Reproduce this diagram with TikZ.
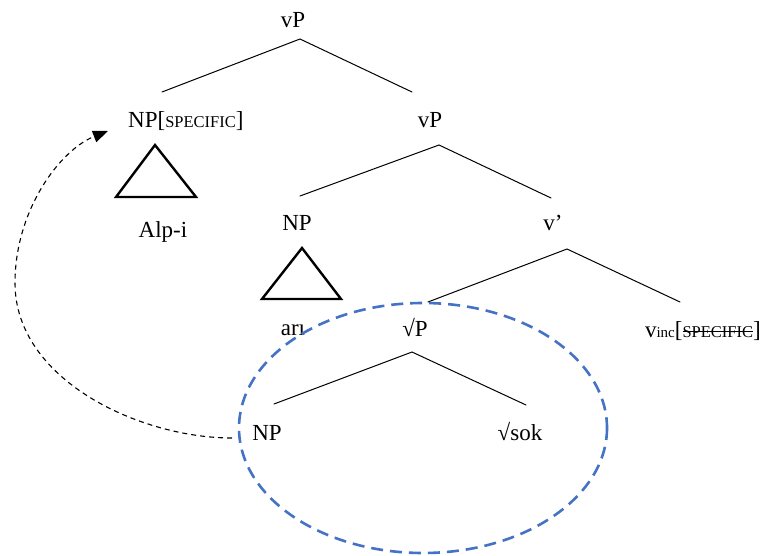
\documentclass[tikz,border=0pt]{standalone}
\usepackage{fontspec}
\setmainfont{Liberation Serif}
\usetikzlibrary{arrows.meta}

\newcommand{\lbl}{\fontsize{23}{26}\selectfont}
\newcommand{\feat}[1]{{\fontsize{16.5}{18}\selectfont #1}}
\newcommand{\subsz}[1]{{\fontsize{15}{18}\selectfont #1}}
\newsavebox{\strikebox}
\newcommand{\struck}[1]{\sbox{\strikebox}{#1}\rlap{\rule[0.33em]{\wd\strikebox}{0.9pt}}\usebox{\strikebox}}

\tikzset{
  cat/.style={inner sep=0pt, anchor=base, font=\lbl},
  branch/.style={line width=1pt, line cap=round},
  tri/.style={line width=2.4pt, line join=miter},
  movement/.style={line width=1.1pt, dash pattern=on 5pt off 4pt,
    -{Triangle[length=15pt,width=12pt]}},
  phase/.style={line width=2.6pt, draw={rgb,255:red,68;green,114;blue,196},
    dash pattern=on 12pt off 7pt}
}

\begin{document}
\begin{tikzpicture}[x=1pt,y=-1pt]
\useasboundingbox (0,0) rectangle (763,556);

% category labels
\node[cat] (vP1) at (293,28) {vP};
\node[cat, anchor=base west] (npSpec) at (128,128) {NP[\feat{SPECIFIC}]};
\node[cat] (vP2) at (430,128) {vP};
\node[cat] (alpi) at (163,237) {Alp-i};
\node[cat] (np2) at (297,230) {NP};
\node[cat] (vbar) at (553,230) {v’};
\node[cat] (ari) at (293,335) {arı};
\node[cat] (rootP) at (415,336) {√P};
\node[cat, anchor=base east] (vinc) at (761,337) {v\subsz{inc}[\feat{\struck{SPECIFIC}}]};
\node[cat] (npLow) at (267,440) {NP};
\node[cat] (sok) at (520,440) {√sok};

% branching points and branch ends
\coordinate (b1) at (300,39);
\coordinate (b1l) at (162,92);
\coordinate (b1r) at (412,92);
\coordinate (b2) at (439,145);
\coordinate (b2l) at (300,196);
\coordinate (b2r) at (551,198);
\coordinate (b3) at (567,249);
\coordinate (b3l) at (428,302);
\coordinate (b3r) at (680,302);
\coordinate (b4) at (412,352);
\coordinate (b4l) at (274,404);
\coordinate (b4r) at (526,405);

\draw[branch] (b1l) -- (b1) -- (b1r);
\draw[branch] (b2l) -- (b2) -- (b2r);
\draw[branch] (b3l) -- (b3) -- (b3r);
\draw[branch] (b4l) -- (b4) -- (b4r);

% collapsed subtrees
\draw[tri] (155,145) -- (116,197) -- (196,197) -- cycle;
\draw[tri] (302,248) -- (262,299) -- (341,299) -- cycle;

% incorporation domain
\draw[phase] (423,428) ellipse [x radius=184, y radius=125];

% movement of the object
\coordinate (mvStart) at (232,438);
\coordinate (mvMid) at (15,283);
\coordinate (mvEnd) at (108,131);
\draw[movement] (mvStart) .. controls (140,438) and (15,380) .. (mvMid)
  .. controls (15,210) and (60,150) .. (mvEnd);
\end{tikzpicture}
\end{document}
